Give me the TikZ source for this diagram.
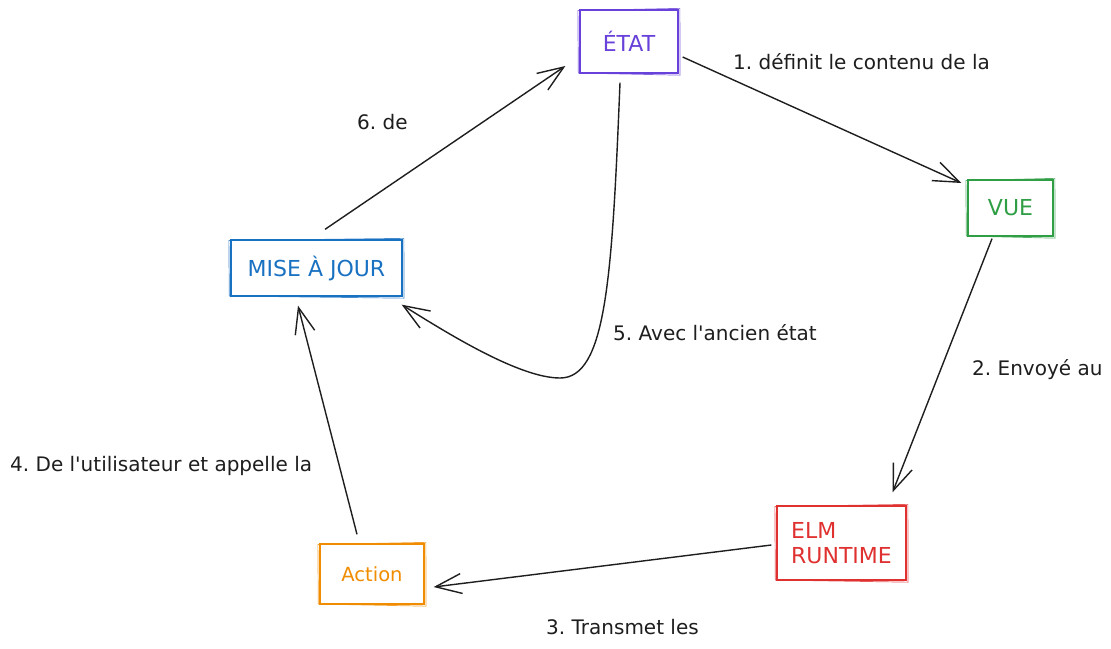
\documentclass[tikz,border=0pt]{standalone}
\usepackage{fontspec}
\setmainfont{DejaVu Sans}
\usetikzlibrary{arrows.meta}
\definecolor{cpurple}{HTML}{6741D9}
\definecolor{cgreen}{HTML}{2F9E44}
\definecolor{cblue}{HTML}{1971C2}
\definecolor{cred}{HTML}{E03131}
\definecolor{corange}{HTML}{F08C00}
\definecolor{ink}{HTML}{1E1E1E}
\newcommand\roughbox[2]{%
  \draw[#2,line width=0.7pt,opacity=0.8] ([shift={(-1.5,1.2)}]#1.north west) -- ([shift={(1.2,-1)}]#1.north east)
    -- ([shift={(1.4,1.5)}]#1.south east) -- ([shift={(-1,-0.6)}]#1.south west) -- cycle;}
\begin{document}
\frenchspacing
\begin{tikzpicture}[x=1pt,y=-1pt,
  box/.style={draw,line width=1.3pt,inner sep=2pt,font=\fontsize{22}{25}\selectfont,align=left},
  lbl/.style={text=ink,inner sep=0pt,anchor=west,font=\fontsize{20}{24}\selectfont},
  arr/.style={draw=ink,line width=1.4pt,-{Straight Barb[length=26pt,width=20pt,line width=1.4pt]}}]
\fill[white] (0,0) rectangle (1111,648);
\useasboundingbox (0,0) rectangle (1111,648);

\node[box,draw=cpurple,text=cpurple,minimum width=98pt,minimum height=63pt] (etat) at (629,41.5) {ÉTAT};
\node[box,draw=cgreen,text=cgreen,minimum width=85pt,minimum height=56pt] (vue) at (1010.5,208) {VUE};
\node[box,draw=cblue,text=cblue,minimum width=171pt,minimum height=56pt] (mise) at (316.5,268) {MISE À JOUR};
\node[box,draw=cred,text=cred,minimum width=129pt,minimum height=74pt] (elm) at (841.5,543) {ELM\\RUNTIME};
\node[box,draw=corange,text=corange,minimum width=104pt,minimum height=60pt,font=\fontsize{19.5}{24}\selectfont] (action) at (372,574) {Action};

\roughbox{etat}{cpurple}
\roughbox{vue}{cgreen}
\roughbox{mise}{cblue}
\roughbox{elm}{cred}
\roughbox{action}{corange}

\draw[arr] ([shift={(4,15.5)}]etat.east) -- ([shift={(-6,-25)}]vue.west);
\draw[arr] ([shift={(-18.5,2)}]vue.south) -- ([shift={(51,-13)}]elm.north);
\draw[arr] ([shift={(-5,2)}]elm.west) -- ([shift={(9,13)}]action.east);
\draw[arr] ([shift={(-15,-9)}]action.north) -- ([shift={(-18.5,9)}]mise.south);
\draw[arr] ([shift={(8.5,-10)}]mise.north) -- ([shift={(-14,24.5)}]etat.west);
\draw[arr] ([shift={(-9,9)}]etat.south) .. controls (612,280) and (606,378) .. (560,378)
   .. controls (520,378) and (450,335) .. ([shift={(-1,8)}]mise.south east);

\node[lbl] (l1) at (733,62) {1. définit le contenu de la};
\node[lbl] (l2) at (972,370) {2. Envoyé au};
\node[lbl] (l3) at (546,627) {3. Transmet les};
\node[lbl] (l4) at (10,466) {4. De l\textquotesingle utilisateur et appelle la};
\node[lbl] (l5) at (613,333) {5. Avec l\textquotesingle ancien état};
\node[lbl] (l6) at (357,122) {6. de};
\end{tikzpicture}
\end{document}
